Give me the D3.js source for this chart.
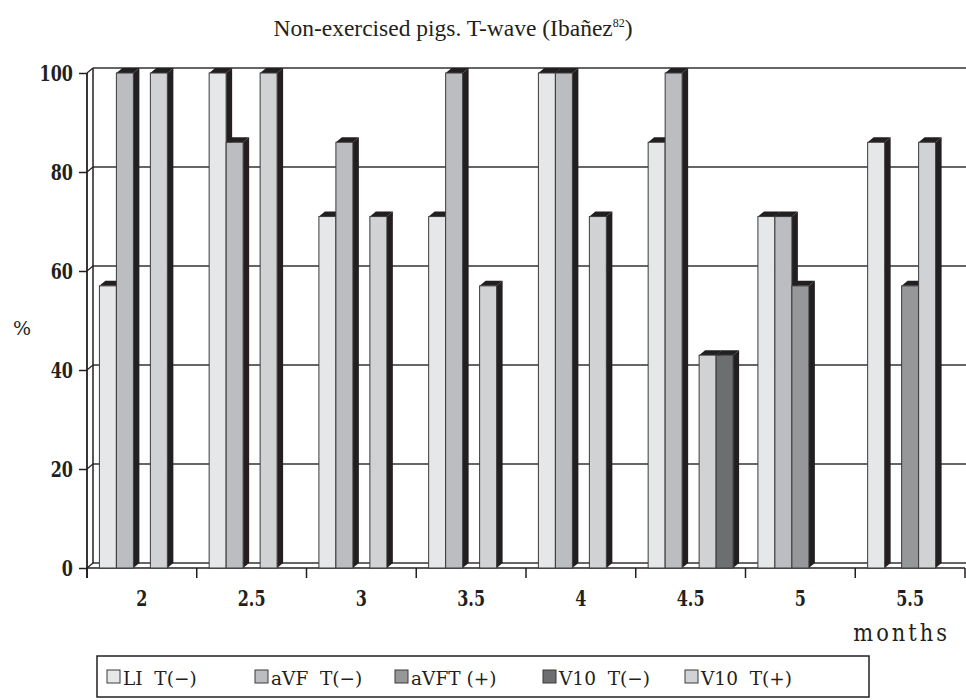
<!DOCTYPE html>
<html><head><meta charset="utf-8">
<script src="https://cdn.jsdelivr.net/npm/d3@7"></script>
<style>body{margin:0;background:#fff}</style>
</head><body>
<svg id="c" width="966" height="700"></svg>
<script>
const categories = ["2","2.5","3","3.5","4","4.5","5","5.5"];
const seriesNames = ["LI  T(\u2212)","aVF  T(\u2212)","aVFT (+)","V10  T(\u2212)","V10  T(+)"];
const LI   = [57,100,71,71,100,86,71,86];
const aVF  = [100,86,86,100,100,100,71,0];
const aVFT = [0,0,0,0,0,0,57,57];
const V10m = [0,0,0,0,0,43,0,0];
const V10p = [100,100,71,57,71,43,0,86];
const yTicks = [0,20,40,60,80,100];

const seriesValues = [LI,aVF,aVFT,V10m,V10p];
const colors = ["#e6e7e8","#bcbdc0","#969799","#6d6e70","#d1d2d4"];
const dark = "#231f20";
// drawing slot order within a cluster (as drawn in the original)
const slotOrder = [0,1,2,4,3];

const svg = d3.select("#c");
const font = "'DejaVu Serif', serif";
const X0 = 87, X1 = 965, Ytop = 73, Ybot = 568;
const DX = 6, DY = -5;
const SY = 1.4; // vertical stretch of axis lettering

const x = d3.scaleBand().domain(categories).range([X0, X1]).padding(0);
const xs = d3.scaleBand().domain(slotOrder).range([0, x.bandwidth()]).paddingInner(0).paddingOuter(0.73);
const y = d3.scaleLinear().domain([0,100]).range([Ybot, Ytop]);

const g = svg.append("g");
yTicks.forEach(t => {
  const yy = y(t);
  g.append("line").attr("x1", X0+DX).attr("x2", X1+1).attr("y1", yy+DY).attr("y2", yy+DY)
    .attr("stroke", "#333").attr("stroke-width", 1.5);
  g.append("line").attr("x1", X0).attr("x2", X0+DX).attr("y1", yy).attr("y2", yy+DY)
    .attr("stroke", dark).attr("stroke-width", 1.2);
});
g.append("line").attr("x1", X0+DX).attr("x2", X0+DX).attr("y1", y(100)+DY).attr("y2", y(0)+DY)
  .attr("stroke", dark).attr("stroke-width", 1.5);
g.append("line").attr("x1", X0).attr("x2", X1).attr("y1", Ybot).attr("y2", Ybot)
  .attr("stroke", dark).attr("stroke-width", 1.5);

// y axis
const yAxis = d3.axisLeft(y).tickValues(yTicks).tickSize(8).tickPadding(6);
const ya = svg.append("g").attr("transform", `translate(${X0},0)`).call(yAxis);
ya.select(".domain").attr("stroke", dark).attr("stroke-width", 1.8).attr("d", `M-0,${Ytop}V${Ybot+10}`);
ya.selectAll(".tick line").attr("stroke", dark).attr("stroke-width", 1.5);
ya.selectAll("text").attr("font-family", font).attr("font-weight", "bold").attr("font-size", 16).attr("fill", dark)
  .attr("dy", null).attr("y", 0).attr("transform", `translate(0,${5.6*SY}) scale(1,${SY})`);

// x axis
const xAxis = d3.axisBottom(x).tickSize(0).tickPadding(0);
const xa = svg.append("g").attr("transform", `translate(0,${Ybot})`).call(xAxis);
xa.select(".domain").remove();
xa.selectAll("text").attr("font-family", font).attr("font-weight", "bold").attr("font-size", 16).attr("fill", dark)
  .attr("dy", null).attr("y", 0).attr("transform", `translate(0,38) scale(1,${SY})`);
const bounds = categories.map(c => x(c)).concat([X1]);
svg.append("g").selectAll("line").data(bounds).join("line")
  .attr("x1", d => d).attr("x2", d => d).attr("y1", Ybot).attr("y2", Ybot + 10)
  .attr("stroke", dark).attr("stroke-width", 1.5);

// bars
const bars = svg.append("g");
categories.forEach((c, ci) => {
  slotOrder.forEach(si => {
    const v = seriesValues[si][ci];
    if (!v) return;
    const bx = x(c) + xs(si), bw = xs.bandwidth(), by = y(v);
    const grp = bars.append("g");
    grp.append("path").attr("d", `M${bx+bw},${by}L${bx+bw+DX},${by+DY}L${bx+bw+DX},${Ybot+DY}L${bx+bw},${Ybot}Z`)
      .attr("fill", dark);
    grp.append("path").attr("d", `M${bx},${by}L${bx+DX},${by+DY}L${bx+bw+DX},${by+DY}L${bx+bw},${by}Z`)
      .attr("fill", dark);
    grp.append("rect").attr("x", bx).attr("y", by).attr("width", bw).attr("height", Ybot - by)
      .attr("fill", colors[si]).attr("stroke", "#3a3a3a").attr("stroke-width", 1);
  });
});

// title
const title = svg.append("text").attr("x", 453).attr("y", 36).attr("text-anchor", "middle")
  .attr("font-family", "'Liberation Serif', serif").attr("font-size", 23.5).attr("fill", dark);
title.append("tspan").text("Non-exercised pigs. T-wave (Ibañez");
title.append("tspan").attr("font-size", 12).attr("dy", -9).text("82");
title.append("tspan").attr("dy", 9).text(")");

svg.append("text").attr("x", 22).attr("y", 335).attr("text-anchor", "middle")
  .attr("font-family", font).attr("font-size", 19).attr("fill", dark).text("%");
svg.append("text").attr("text-anchor", "end")
  .attr("transform", `translate(950,641) scale(1,1.15)`)
  .attr("font-family", font).attr("font-size", 21).attr("letter-spacing", 3).attr("fill", dark).text("months");

// legend
const lg = svg.append("g");
lg.append("rect").attr("x", 97).attr("y", 656).attr("width", 772).attr("height", 41)
  .attr("fill", "none").attr("stroke", dark).attr("stroke-width", 1.5);
const legX = [107, 255, 395, 543, 685];
seriesNames.forEach((n, i) => {
  lg.append("rect").attr("x", legX[i]).attr("y", 670).attr("width", 13).attr("height", 13)
    .attr("fill", colors[i]).attr("stroke", "#3a3a3a").attr("stroke-width", 1);
  lg.append("text").attr("x", legX[i] + 16).attr("y", 685)
    .style("white-space", "pre")
    .attr("font-family", font).attr("font-size", 18.5).attr("fill", dark).text(n);
});
</script>
</body></html>
